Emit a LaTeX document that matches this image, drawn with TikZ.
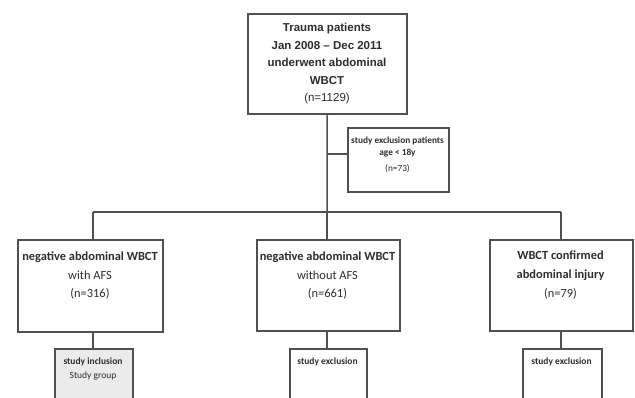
\documentclass[tikz,border=0pt]{standalone}
\usepackage{fontspec}
\setmainfont{Carlito}
\newfontfamily\arialf{Liberation Sans}
\definecolor{lc}{HTML}{505050}
\definecolor{tc}{HTML}{2E2E2E}
\definecolor{gf}{HTML}{EBEBEB}
\tikzset{
  boxshape/.style={draw=lc, line width=1.5pt, fill=white, inner sep=0pt, anchor=north west},
  conn/.style={draw=lc, line width=1.5pt},
  txt/.style={text=tc, align=center, inner sep=0pt, anchor=center},
}
\begin{document}
\begin{tikzpicture}[x=1pt,y=-1pt]
\useasboundingbox (0,0) rectangle (635,397);
\clip (0,0) rectangle (635,397);
% boxes
\node[boxshape, minimum width=159pt, minimum height=100pt] (top) at (247,13) {};
\node[boxshape, minimum width=101pt, minimum height=64pt] (side) at (347,127) {};
\node[boxshape, minimum width=145pt, minimum height=92pt] (b1) at (17,239) {};
\node[boxshape, minimum width=143pt, minimum height=91pt] (b2) at (256,239) {};
\node[boxshape, minimum width=143pt, minimum height=91pt] (b3) at (489,239) {};
\node[boxshape, fill=gf, minimum width=78pt, minimum height=60pt] (s1) at (54,348) {};
\node[boxshape, minimum width=77pt, minimum height=60pt] (s2) at (289,348) {};
\node[boxshape, minimum width=79pt, minimum height=60pt] (s3) at (522,348) {};
% junction points
\coordinate (jc) at (327,212);
\coordinate (j1) at (93,212);
\coordinate (j3) at (561,212);
\coordinate (js) at (327,154);
\coordinate (d1) at (93,239);
\coordinate (d2) at (327,239);
\coordinate (d3) at (561,239);
\coordinate (e1) at (93,331);
\coordinate (e2) at (327,330);
\coordinate (e3) at (561,330);
\coordinate (f1) at (93,348);
\coordinate (f2) at (327,348);
\coordinate (f3) at (561,348);
% connectors
\draw[conn] (top.south) -- (jc);
\draw[conn] (js) -- (side.west |- js);
\draw[conn] (j1) -- (j3);
\draw[conn] (j1) -- (d1);
\draw[conn] (jc) -- (d2);
\draw[conn] (j3) -- (d3);
\draw[conn] (e1) -- (f1);
\draw[conn] (e2) -- (f2);
\draw[conn] (e3) -- (f3);
% texts
\node[txt, font=\arialf\fontsize{11.5}{17.5}\selectfont] (t0) at (327,64)
  {\textbf{Trauma patients}\\\textbf{Jan 2008 – Dec 2011}\\\textbf{underwent abdominal}\\\textbf{WBCT}\\(n=1129)};
\node[txt, font=\fontsize{9.3}{12}\selectfont] (t5) at (397.5,155)
  {\textbf{study exclusion patients}\\\textbf{age < 18y}\\[4pt](n=73)};
\node[txt, font=\fontsize{12.4}{18.5}\selectfont] (t1) at (90,275.5)
  {\textbf{negative abdominal WBCT}\\with AFS\\(n=316)};
\node[txt, font=\fontsize{12.4}{18.5}\selectfont] (t2) at (327.5,275.5)
  {\textbf{negative abdominal WBCT}\\without AFS\\(n=661)};
\node[txt, font=\fontsize{12.4}{19}\selectfont] (t3) at (560.5,275)
  {\textbf{WBCT confirmed}\\\textbf{abdominal injury}\\(n=79)};
\node[txt, font=\fontsize{9.5}{14}\selectfont] (t4) at (93,369)
  {\textbf{study inclusion}\\Study group};
\node[txt, font=\fontsize{9.5}{14}\selectfont\bfseries] (t6) at (327.5,362) {study exclusion};
\node[txt, font=\fontsize{9.5}{14}\selectfont\bfseries] (t7) at (561.5,362) {study exclusion};
\end{tikzpicture}
\end{document}
